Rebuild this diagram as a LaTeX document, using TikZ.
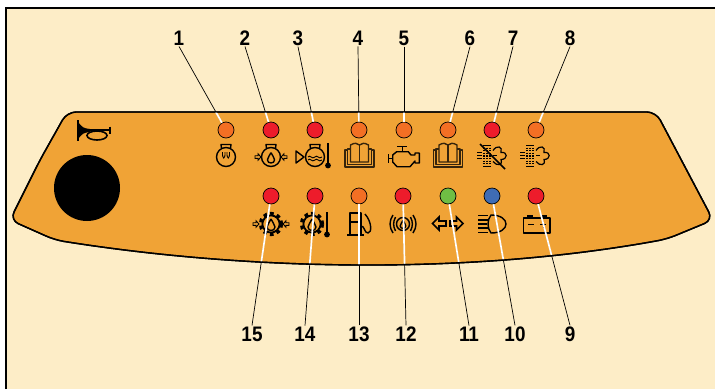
\documentclass[tikz,border=0pt]{standalone}
\usepackage{fontspec}
\newfontfamily\numfont[FakeStretch=0.9]{Liberation Sans}
\usetikzlibrary{
    calc,
    positioning,
}
\definecolor{MyCream}{HTML}{FDEDC7}
\definecolor{MyPanel}{HTML}{F0A336}
\definecolor{MyOrange}{HTML}{F36F24}
\definecolor{MyRed}{HTML}{ED1C2B}
\definecolor{MyGreen}{HTML}{6FBE44}
\definecolor{MyBlue}{HTML}{3F6CB4}
\colorlet{MyBook}{black!78!MyPanel}
\newcommand{\panelpath}{
    (40,160) -- (67,112) -- (656,112) -- (713,220) -- (667,239)
    .. controls (470,275) and (250,271) .. (55,240)
    -- (10,220) -- cycle
}
\tikzset{
    icon/.style={line width=1.4pt,line join=round},
    bulbicon/.pic={
        \draw[icon] (0,0) circle (9.5);
        \draw[icon] (-4.5,-8.4) -- (-5,-12.5) -- (5,-12.5) -- (4.5,-8.4);
    },
    thermoicon/.pic={
        \draw[line width=2pt] (0,-12) -- (0,10);
        \fill (0,10.5) circle (2.9);
    },
    arrowicon/.pic={
        \draw[line width=.9pt,line join=miter] (-3,-1.3) -- (0,-1.3) -- (0,-3.2) -- (3,0) -- (0,3.2) -- (0,1.3) -- (-3,1.3) -- cycle;
    },
    dropicon/.pic={
        \draw[icon] (0,-6) .. controls (1,-2.5) and (4,-1) .. (4,2) .. controls (4,4.5) and (2,5.5) .. (0,5.5) .. controls (-2,5.5) and (-4,4.5) .. (-4,2) .. controls (-4,-1) and (-1,-2.5) .. (0,-6);
    },
    bookicon/.pic={
        \draw[icon,MyBook] (-9,-10) .. controls (-5,-12.5) and (-2,-12) .. (0,-10) .. controls (2,-12) and (5,-12.5) .. (9,-10) -- (9,7) -- (-9,7) -- cycle;
        \draw[icon,MyBook] (0,-10) -- (0,7);
        \draw[icon,MyBook] (-9,-6) -- (-12,-6) -- (-12,9.5) -- (12,9.5) -- (12,-6) -- (9,-6);
        \draw[icon,MyBook] (-12,-5) -- (-14.5,-5) -- (-14.5,12) -- (14.5,12) -- (14.5,-5) -- (12,-5);
    },
    filtericon/.pic={
        \draw[line width=1.6pt] (-4,-10) -- (4,-10);
        \draw[line width=1.6pt] (-4,11) -- (4,11);
        \draw[line width=1.3pt,dash pattern=on 1.3pt off 1.3pt] (-3,-8) -- (-3,9);
        \draw[line width=1.3pt,dash pattern=on 1.3pt off 1.3pt] (0,-8) -- (0,9);
        \draw[line width=1.3pt,dash pattern=on 1.3pt off 1.3pt] (3,-8) -- (3,9);
        \draw[line width=1.2pt] (-10,-3) -- (-5,-3);
        \draw[line width=1.2pt] (-10,0) -- (-5,0);
        \draw[line width=1.2pt] (-10,3) -- (-5,3);
        \draw[line width=1.2pt] (6,-5) .. controls (10,-11) and (16,-9) .. (14,-3) .. controls (21,-4) and (21,4) .. (14,4) .. controls (16,10) and (10,11) .. (6,6);
        \draw[line width=1.2pt] (6,0) -- (10,0);
    },
    gearicon/.pic={
        \draw[line width=3.4pt,dash pattern=on 3.6pt off 3.3pt] (0,0) circle (10.5);
        \draw[line width=1.8pt] (0,0) circle (8.6);
    },
}
\begin{document}
\begin{tikzpicture}[
    x=1pt,y=-1pt,
    led/.style={circle,draw,line width=.7pt,minimum size=16pt,inner sep=0pt},
    num/.style={font=\numfont\bfseries\fontsize{21}{21}\selectfont,inner sep=1pt},
    lead/.style={line width=.7pt},
    leadwhite/.style={white,line width=1.7pt},
    ]
    \useasboundingbox (0,0) rectangle (715,389);
    \fill[white] (0,0) rectangle (715,389);
    \fill[MyCream] (6,8) rectangle (715,389);
    \draw[line width=2.2pt] (6,389) -- (6,8) -- (715,8);

    \draw[line width=1.4pt,fill=MyPanel,rounded corners=9pt] \panelpath;
    \fill (87,188) circle (33);

    \draw[line width=2.4pt] (78,120) -- (78,141);
    \fill (78,122) .. controls (83,128) .. (90,129) -- (90,132) .. controls (83,133) .. (78,139) -- cycle;
    \draw[line width=1.8pt] (86,130) -- (110,130);
    \draw[line width=2.6pt] (110,126.5) -- (110,133.5);
    \draw[line width=1.6pt] (97,135.5) ellipse (10 and 4.5);

    \pic at (226,157) {bulbicon};
    \draw[line width=.9pt] (222.5,152) .. controls (222,160) and (225.5,160) .. (225,152);
    \draw[line width=.9pt] (227,152) .. controls (226.5,160) and (230,160) .. (229.5,152);

    \pic at (271,157) {bulbicon};
    \pic[scale=.9] at (271,158) {dropicon};
    \pic at (258,157) {arrowicon};
    \pic[rotate=180] at (284,157) {arrowicon};

    \pic at (315,157) {bulbicon};
    \draw[icon] (296,151) -- (304,157) -- (296,163) -- cycle;
    \draw[line width=.9pt] (308,157) .. controls (310,154) and (312,160) .. (315,157) .. controls (317,154) and (319,160) .. (322,157);
    \draw[line width=.9pt] (308,160) .. controls (310,157) and (312,163) .. (315,160) .. controls (317,157) and (319,163) .. (322,160);
    \pic at (328,155) {thermoicon};

    \pic at (359.5,155) {bookicon};

    \draw[icon] (397.3,146.7) -- (407.3,146.7);
    \draw[icon] (402.3,146.7) -- (402.3,151.7);
    \draw[icon] (388.3,154) -- (388.3,163);
    \draw[icon] (388.3,158.3) -- (392.7,158.3);
    \draw[icon] (392.7,155) -- (396.7,151.7) -- (408.3,151.7) -- (411,155) -- (415,155) -- (415,153) -- (419.3,153) -- (419.3,163) -- (415,163) -- (415,161) -- (410,166.7) -- (397,166.7) -- (392.7,162) -- cycle;

    \pic at (448,155) {bookicon};

    \pic at (487,155.5) {filtericon};
    \draw[line width=1.5pt] (480,144) -- (505,169);

    \pic at (530,155.5) {filtericon};

    \pic at (271,224) {gearicon};
    \pic at (271,225) {dropicon};
    \pic at (256,224) {arrowicon};
    \pic[rotate=180] at (286,224) {arrowicon};

    \pic at (312,224) {gearicon};
    \pic at (312,225) {dropicon};
    \pic at (327,224) {thermoicon};

    \draw[icon] (350,235) -- (350,213) -- (361,213) -- (361,235);
    \draw[icon] (350,222) -- (361,222);
    \draw[icon] (347,235) -- (364,235);
    \draw[icon] (361,226) .. controls (365,226) and (364,233) .. (368,233) .. controls (372,233) and (372,222) .. (365,214);

    \draw[icon] (403,224) circle (6.5);
    \pic[scale=.7] at (403,224.5) {dropicon};
    \draw[icon] (393,215) .. controls (389,221) and (389,227) .. (393,233);
    \draw[icon] (413,215) .. controls (417,221) and (417,227) .. (413,233);
    \draw[icon] (395.5,217) .. controls (393,222) and (393,226) .. (395.5,231);
    \draw[icon] (410.5,217) .. controls (413,222) and (413,226) .. (410.5,231);

    \draw[line width=1.6pt,line join=miter] (432.5,223.5) -- (439,217) -- (439,221) -- (446,221) -- (446,226) -- (439,226) -- (439,230) -- cycle;
    \draw[line width=1.6pt,line join=miter] (463,223.5) -- (456.5,217) -- (456.5,221) -- (450,221) -- (450,226) -- (456.5,226) -- (456.5,230) -- cycle;

    \draw[icon] (491,215) .. controls (511,215) and (511,233) .. (491,233) .. controls (487,228) and (487,220) .. cycle;
    \draw[line width=1.6pt] (478,215.5) -- (488,215.5);
    \draw[line width=1.6pt] (478,219.8) -- (487.5,219.8);
    \draw[line width=1.6pt] (478,224) -- (487,224);
    \draw[line width=1.6pt] (478,228.2) -- (487.5,228.2);
    \draw[line width=1.6pt] (478,232.5) -- (488,232.5);

    \draw[icon] (523.5,218) rectangle (550,233);
    \draw[line width=1.8pt] (527,216) -- (533,216);
    \draw[line width=1.8pt] (541,216) -- (547,216);
    \draw[line width=1pt] (528,224.5) -- (534,224.5);
    \draw[line width=1pt] (540,224.5) -- (546,224.5);
    \draw[line width=1pt] (543,221.5) -- (543,227.5);

    \node[led,fill=MyOrange] (led1) at (226,130) {};
    \node[led,fill=MyRed] (led2) at (271,130) {};
    \node[led,fill=MyRed] (led3) at (315,130) {};
    \node[led,fill=MyOrange] (led4) at (359,130) {};
    \node[led,fill=MyOrange] (led5) at (404,130) {};
    \node[led,fill=MyOrange] (led6) at (448,130) {};
    \node[led,fill=MyRed] (led7) at (492,130) {};
    \node[led,fill=MyOrange] (led8) at (536,130) {};
    \node[led,fill=MyRed] (led9) at (536,196) {};
    \node[led,fill=MyBlue] (led10) at (492,196) {};
    \node[led,fill=MyGreen] (led11) at (448,196) {};
    \node[led,fill=MyRed] (led12) at (403,196) {};
    \node[led,fill=MyOrange] (led13) at (359,196) {};
    \node[led,fill=MyRed] (led14) at (315,196) {};
    \node[led,fill=MyRed] (led15) at (271,196) {};

    \node[num] (num1) at (179,38) {1};
    \node[num] (num2) at (245,38) {2};
    \node[num] (num3) at (298,38) {3};
    \node[num] (num4) at (358,38) {4};
    \node[num] (num5) at (404,38) {5};
    \node[num] (num6) at (470,38) {6};
    \node[num] (num7) at (513,38) {7};
    \node[num] (num8) at (570,38) {8};
    \node[num] (num9) at (570,334) {9};
    \node[num] (num10) at (515,334) {10};
    \node[num] (num11) at (469,334) {11};
    \node[num] (num12) at (406,334) {12};
    \node[num] (num13) at (359,334) {13};
    \node[num] (num14) at (305,334) {14};
    \node[num] (num15) at (252,334) {15};

    \draw[lead] (num1.south) -- (led1);
    \draw[lead] (num2.south) -- (led2);
    \draw[lead] (num3.south) -- (led3);
    \draw[lead] (num4.south) -- (led4);
    \draw[lead] (num5.south) -- (led5);
    \draw[lead] (num6.south) -- (led6);
    \draw[lead] (num7.south) -- (led7);
    \draw[lead] (num8.south) -- (led8);
    \draw[lead] (num9.north) -- (led9);
    \draw[lead] (num10.north) -- (led10);
    \draw[lead] (num11.north) -- (led11);
    \draw[lead] (num12.north) -- (led12);
    \draw[lead] (num13.north) -- (led13);
    \draw[lead] (num14.north) -- (led14);
    \draw[lead] (num15.north) -- (led15);

    \begin{scope}
        \clip \panelpath;
        \draw[leadwhite] (num1.south) -- (led1);
        \draw[leadwhite] (num2.south) -- (led2);
        \draw[leadwhite] (num3.south) -- (led3);
        \draw[leadwhite] (num4.south) -- (led4);
        \draw[leadwhite] (num5.south) -- (led5);
        \draw[leadwhite] (num6.south) -- (led6);
        \draw[leadwhite] (num7.south) -- (led7);
        \draw[leadwhite] (num8.south) -- (led8);
        \draw[leadwhite] (num9.north) -- (led9);
        \draw[leadwhite] (num10.north) -- (led10);
        \draw[leadwhite] (num11.north) -- (led11);
        \draw[leadwhite] (num12.north) -- (led12);
        \draw[leadwhite] (num13.north) -- (led13);
        \draw[leadwhite] (num14.north) -- (led14);
        \draw[leadwhite] (num15.north) -- (led15);
    \end{scope}

    \draw[line width=1.4pt,rounded corners=9pt] \panelpath;
\end{tikzpicture}
\end{document}
